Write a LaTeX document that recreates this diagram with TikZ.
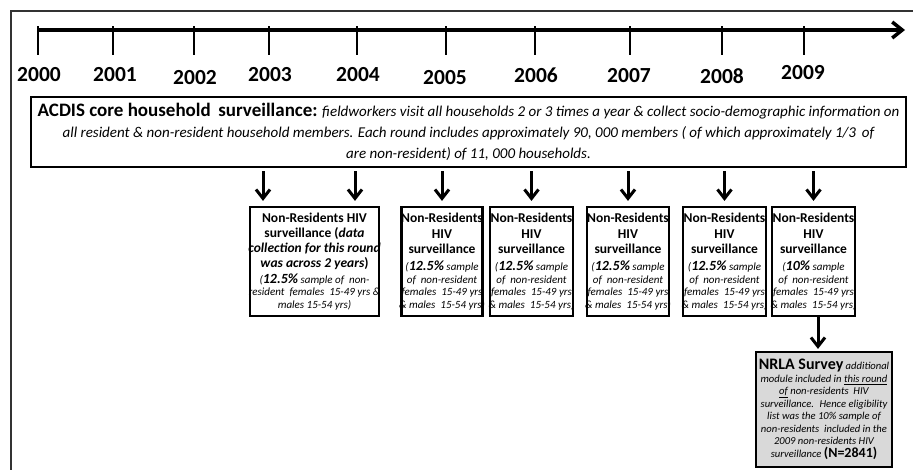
\documentclass[tikz,border=0pt]{standalone}
\usepackage{fontspec}
\setmainfont{Carlito}
\usetikzlibrary{arrows.meta, positioning}
\definecolor{nrlagray}{HTML}{D9D9D9}
\newcommand{\nrtitle}{\fontsize{13.5}{15.5}\selectfont\bfseries\upshape}
\newcommand{\nrhead}[1]{\makebox[0pt]{\nrtitle #1}}
\newcommand{\nrsmall}{\fontsize{11}{12.5}\selectfont\itshape}
\newcommand{\nrpct}[1]{{\fontsize{14}{12.5}\selectfont\bfseries\itshape #1}}
\newcommand{\hivround}[1]{\nrhead{Non-Residents}\\[3pt]\nrhead{HIV}\\[3pt]\nrhead{surveillance}\\[4.5pt](\nrpct{#1} sample\\of~ non-resident\\females~ 15-49 yrs\\\makebox[0pt]{\& males~ 15-54 yrs)}}
\tikzstyle{outerframe} = [draw=black!80, line width=1.5pt]
\tikzstyle{timeline} = [line width=3.5pt, -{Straight Barb[length=10pt, width=16pt]}]
\tikzstyle{yeartick} = [line width=2.8pt]
\tikzstyle{year} = [font=\fontsize{21.5}{24}\selectfont\bfseries, inner sep=0pt]
\tikzstyle{corebox} = [rectangle, draw, line width=2pt, minimum width=875pt, minimum height=70pt, align=center, inner sep=0pt, font=\fontsize{15}{21}\selectfont\itshape]
\tikzstyle{roundbox} = [rectangle, draw, line width=2.2pt, minimum height=109pt, align=center, inner sep=0pt, font=\nrsmall]
\tikzstyle{nrlabox} = [rectangle, draw, fill=nrlagray, line width=2.2pt, minimum width=136pt, minimum height=115pt, align=center, inner sep=0pt, font=\fontsize{10.6}{12.5}\selectfont\itshape]
\tikzstyle{arrow} = [-{Straight Barb[length=9pt, width=14pt]}, line width=3pt]

\begin{document}
\begin{tikzpicture}[x=1pt, y=-1pt]
\useasboundingbox (0,0) rectangle (913,469);

\draw[outerframe] (11,480) -- (11,11) -- (925,11);

\coordinate (t2000) at (38,30);
\coordinate (tend) at (905,30);
\draw[timeline] (t2000) -- (tend);

\draw[yeartick] (38,26) -- (38,55);
\draw[yeartick] (113,26) -- (113,55);
\draw[yeartick] (194,26) -- (194,55);
\draw[yeartick] (269,26) -- (269,55);
\draw[yeartick] (357,26) -- (357,55);
\draw[yeartick] (446,26) -- (446,55);
\draw[yeartick] (535,26) -- (535,55);
\draw[yeartick] (630,26) -- (630,55);
\draw[yeartick] (722,26) -- (722,55);
\draw[yeartick] (804,26) -- (804,55);

\node[year] (y2000) at (39,75) {2000};
\node[year] (y2001) at (115,75) {2001};
\node[year] (y2002) at (195,78) {2002};
\node[year] (y2003) at (270,75) {2003};
\node[year] (y2004) at (358,75) {2004};
\node[year] (y2005) at (445,78) {2005};
\node[year] (y2006) at (536,75) {2006};
\node[year] (y2007) at (629,76) {2007};
\node[year] (y2008) at (722,76) {2008};
\node[year] (y2009) at (803,73) {2009};

\node[corebox] (core) at (468.5,132) {{\fontsize{19}{21}\selectfont\bfseries\upshape ACDIS core household\, surveillance:} fieldworkers visit all households 2 or 3 times a year \& collect socio-demographic information on\\all resident \& non-resident household members. Each round includes approximately 90, 000 members ( of which approximately 1/3\, of\\are non-resident) of 11, 000 households.};

\node[roundbox, minimum width=129pt] (r0304) at (314.5,261.5) {\nrhead{Non-Residents HIV}\\[2.5pt]\nrhead{surveillance (\textit{data}}\\[2.5pt]\nrhead{\itshape collection for this round}\\[2.5pt]\nrhead{\itshape was across 2 years\upshape)}\\[3.5pt](\nrpct{12.5\%} sample of~ non-\\\makebox[0pt]{resident~ females~ 15-49 yrs \&}\\males 15-54 yrs)};
\node[roundbox, minimum width=80pt] (r05) at (442,261.5) {\hivround{12.5\%}};
\node[roundbox, minimum width=83pt] (r06) at (531.5,261.5) {\hivround{12.5\%}};
\node[roundbox, minimum width=82pt] (r07) at (628,261.5) {\hivround{12.5\%}};
\node[roundbox, minimum width=83pt] (r08) at (724.5,261.5) {\hivround{12.5\%}};
\node[roundbox, minimum width=83pt] (r09) at (813.5,261.5) {\hivround{10\%}};

\node[nrlabox] (nrla) at (824,409.5) {\makebox[0pt]{{\fontsize{16}{12.5}\selectfont\bfseries\upshape NRLA Survey} additional}\\module included in \underline{this round}\\\underline{of} non-residents~ HIV\\surveillance.~ Hence eligibility\\list was the 10\% sample of\\non-residents~ included in the\\2009 non-residents HIV\\surveillance {\fontsize{14}{12.5}\selectfont\bfseries\upshape (N=2841)}};

\draw[arrow, shorten <=3pt, shorten >=5pt] ([xshift=-51.5pt]r0304.north |- core.south) -- ([xshift=-51.5pt]r0304.north);
\draw[arrow, shorten <=3pt, shorten >=5pt] ([xshift=40.5pt]r0304.north |- core.south) -- ([xshift=40.5pt]r0304.north);
\draw[arrow, shorten <=3pt, shorten >=5pt] (core.south -| r05.north) -- (r05.north);
\draw[arrow, shorten <=3pt, shorten >=5pt] (core.south -| r06.north) -- (r06.north);
\draw[arrow, shorten <=3pt, shorten >=5pt] (core.south -| r07.north) -- (r07.north);
\draw[arrow, shorten <=3pt, shorten >=5pt] (core.south -| r08.north) -- (r08.north);
\draw[arrow, shorten <=3pt, shorten >=5pt] (core.south -| r09.north) -- (r09.north);
\draw[arrow, shorten >=2pt] ([xshift=-6pt]nrla.north |- r09.south) -- ([xshift=-6pt]nrla.north);

\end{tikzpicture}
\end{document}
